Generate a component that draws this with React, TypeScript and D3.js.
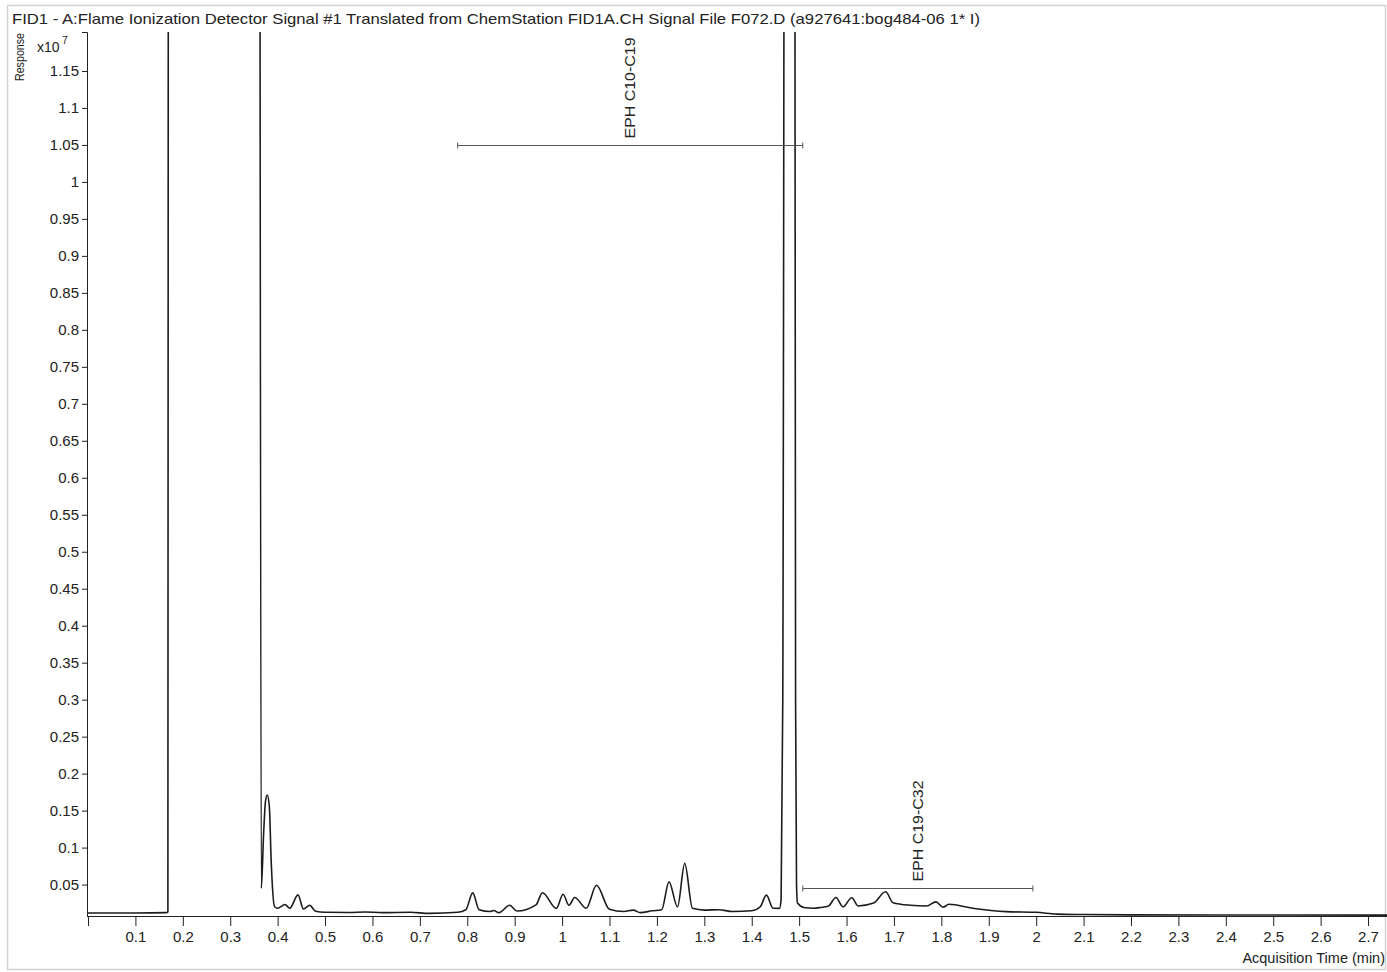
import React, { useEffect, useRef } from "react";
import * as d3 from "d3";

const TITLE =
  "FID1 - A:Flame Ionization Detector Signal #1 Translated from ChemStation FID1A.CH Signal File F072.D (a927641:bog484-06 1* I)";

// acquisition time, min
const time = [
  0, 0.1, 0.165, 0.1685, 0.1705, 0.3595, 0.3655, 0.3705, 0.3745, 0.3782,
  0.3825, 0.3865, 0.3935, 0.4, 0.4155, 0.4255, 0.443, 0.4545, 0.4675, 0.48,
  0.5, 0.55, 0.585, 0.62, 0.68, 0.72, 0.78, 0.797, 0.8115, 0.825,
  0.848, 0.856, 0.8665, 0.8895, 0.905, 0.945, 0.9585, 0.988, 1.002, 1.0145,
  1.0265, 1.051, 1.0725, 1.1, 1.13, 1.15, 1.165, 1.19, 1.21, 1.2255,
  1.2435, 1.2587, 1.275, 1.3, 1.33, 1.36, 1.4, 1.418, 1.431, 1.445,
  1.4585, 1.462, 1.4655, 1.4725, 1.4885, 1.4925, 1.4945, 1.4965, 1.51, 1.53,
  1.545, 1.562, 1.5775, 1.5925, 1.611, 1.6245, 1.657, 1.6825, 1.698, 1.735,
  1.769, 1.7885, 1.8035, 1.816, 1.866, 1.937, 2.0, 2.043, 2.1, 2.2,
  2.372, 2.5, 2.74,
];

// response, x10^7 (3 = peak saturated, runs off the top)
const response = [
  0.0115, 0.0115, 0.012, 0.013, 3, 3, 0.045, 0.12, 0.163, 0.171,
  0.155, 0.08, 0.02, 0.018, 0.023, 0.018, 0.036, 0.017, 0.022, 0.014,
  0.0125, 0.0122, 0.013, 0.012, 0.0125, 0.011, 0.0125, 0.016, 0.0387, 0.016,
  0.0135, 0.015, 0.012, 0.022, 0.0142, 0.0225, 0.039, 0.0178, 0.037, 0.022,
  0.0325, 0.0179, 0.049, 0.0165, 0.0135, 0.0155, 0.012, 0.0145, 0.016, 0.0536,
  0.0198, 0.0786, 0.0179, 0.0155, 0.016, 0.0135, 0.0145, 0.02, 0.0357, 0.018,
  0.0178, 0.03, 0.3, 3, 3, 0.3, 0.05, 0.025, 0.019, 0.018,
  0.019, 0.021, 0.0326, 0.0199, 0.0321, 0.0211, 0.025, 0.0403, 0.0255, 0.022,
  0.021, 0.0266, 0.0194, 0.0233, 0.018, 0.0134, 0.0125, 0.0101, 0.0095, 0.009,
  0.0088, 0.0088, 0.0087,
];

const yTicks = [
  0.05, 0.1, 0.15, 0.2, 0.25, 0.3, 0.35, 0.4, 0.45, 0.5, 0.55, 0.6,
  0.65, 0.7, 0.75, 0.8, 0.85, 0.9, 0.95, 1, 1.05, 1.1, 1.15,
];
const xTicks = [
  0, 0.1, 0.2, 0.3, 0.4, 0.5, 0.6, 0.7, 0.8, 0.9, 1, 1.1, 1.2, 1.3,
  1.4, 1.5, 1.6, 1.7, 1.8, 1.9, 2, 2.1, 2.2, 2.3, 2.4, 2.5, 2.6, 2.7,
];

// integration ranges
const rangeLabels = ["EPH C10-C19", "EPH C19-C32"];
const rangeStart = [0.7797, 1.5077];
const rangeEnd = [1.5077, 1.993];
const rangeLevel = [1.05, 0.045];

const W = 1387;
const H = 972;
const FONT = "'Liberation Sans', Arial, sans-serif";

export default function App() {
  const ref = useRef<SVGSVGElement>(null);

  useEffect(() => {
    const svg = d3.select(ref.current);
    svg.selectAll("*").remove();

    const x = d3.scaleLinear().domain([0, 2.74]).range([88, 1387]);
    const y = d3.scaleLinear().domain([0.0075, 1.2027]).range([916, 32]);

    // outer frame
    svg.append("rect")
      .attr("x", 7.5).attr("y", 5.5)
      .attr("width", 1378).attr("height", 964)
      .attr("fill", "none").attr("stroke", "#d2d2d2").attr("stroke-width", 1.5);

    svg.append("text")
      .attr("x", 12).attr("y", 24)
      .attr("font-size", 14.5)
      .attr("textLength", 968).attr("lengthAdjust", "spacingAndGlyphs")
      .attr("fill", "#222")
      .text(TITLE);

    // y axis
    const yAxis = svg.append("g")
      .attr("transform", "translate(87,0)")
      .call(d3.axisLeft(y).tickValues(yTicks).tickSize(5).tickSizeOuter(0)
        .tickFormat((d) => d3.format(".3~g")(d as number)));
    yAxis.select(".domain").remove();
    yAxis.selectAll("line").attr("stroke", "#222");
    yAxis.selectAll("text").attr("font-size", 15).attr("font-family", FONT).attr("fill", "#222");
    svg.append("path")
      .attr("d", "M82,32.5H87.5V916")
      .attr("fill", "none").attr("stroke", "#222");

    // x axis
    const xAxis = svg.append("g")
      .attr("transform", "translate(0,916)")
      .call(d3.axisBottom(x).tickValues(xTicks).tickSize(10).tickSizeOuter(0)
        .tickFormat((d) => (d === 0 ? "" : d3.format(".2~g")(d as number))));
    xAxis.select(".domain").attr("d", "M87,0.5H1387").attr("stroke", "#222");
    xAxis.selectAll("line").attr("stroke", "#222");
    xAxis.selectAll("text")
      .attr("dy", null).attr("y", 26)
      .attr("font-size", 15).attr("font-family", FONT).attr("fill", "#222");

    // axis captions
    svg.append("text")
      .attr("transform", "translate(24,81) rotate(-90)")
      .attr("font-size", 13)
      .attr("textLength", 48).attr("lengthAdjust", "spacingAndGlyphs")
      .attr("fill", "#222")
      .text("Response");
    svg.append("text")
      .attr("x", 37).attr("y", 52).attr("font-size", 14).attr("fill", "#222")
      .text("x10");
    svg.append("text")
      .attr("x", 62).attr("y", 44).attr("font-size", 10.5).attr("fill", "#222")
      .text("7");
    svg.append("text")
      .attr("x", 1385).attr("y", 963)
      .attr("text-anchor", "end")
      .attr("font-size", 14.5)
      .attr("fill", "#222")
      .text("Acquisition Time (min)");

    // signal
    svg.append("clipPath").attr("id", "plot-clip")
      .append("rect").attr("x", 88).attr("y", 32).attr("width", 1299).attr("height", 884);

    const pts: [number, number][] = time.map((t, i) => [t, response[i]]);
    const line = d3.line<[number, number]>()
      .x((d) => x(d[0]))
      .y((d) => y(d[1]))
      .curve(d3.curveMonotoneX);

    svg.append("path")
      .attr("clip-path", "url(#plot-clip)")
      .attr("d", line(pts))
      .attr("fill", "none")
      .attr("stroke", "#1c1c1c")
      .attr("stroke-width", 1.6)
      .attr("stroke-linejoin", "round");

    // integration range markers
    rangeLabels.forEach((label, i) => {
      const x0 = x(rangeStart[i]);
      const x1 = x(rangeEnd[i]);
      const yy = Math.round(y(rangeLevel[i])) + 0.5;
      const g = svg.append("g").attr("stroke", "#555").attr("stroke-width", 1);
      g.append("line").attr("x1", x0).attr("x2", x1).attr("y1", yy).attr("y2", yy);
      g.append("line").attr("x1", x0).attr("x2", x0).attr("y1", yy - 3).attr("y2", yy + 3);
      g.append("line").attr("x1", x1).attr("x2", x1).attr("y1", yy - 3).attr("y2", yy + 3);
      svg.append("text")
        .attr("transform", `translate(${(x0 + x1) / 2 + 5},${yy - 7}) rotate(-90)`)
        .attr("font-size", 15)
        .attr("textLength", 101).attr("lengthAdjust", "spacingAndGlyphs")
        .attr("fill", "#222")
        .text(label);
    });
  }, []);

  return (
    <div style={{ position: "absolute", left: 0, top: 0, width: W, height: H, overflow: "hidden", background: "#fff" }}>
      <svg ref={ref} width={W} height={H} style={{ display: "block", fontFamily: FONT }} />
    </div>
  );
}
